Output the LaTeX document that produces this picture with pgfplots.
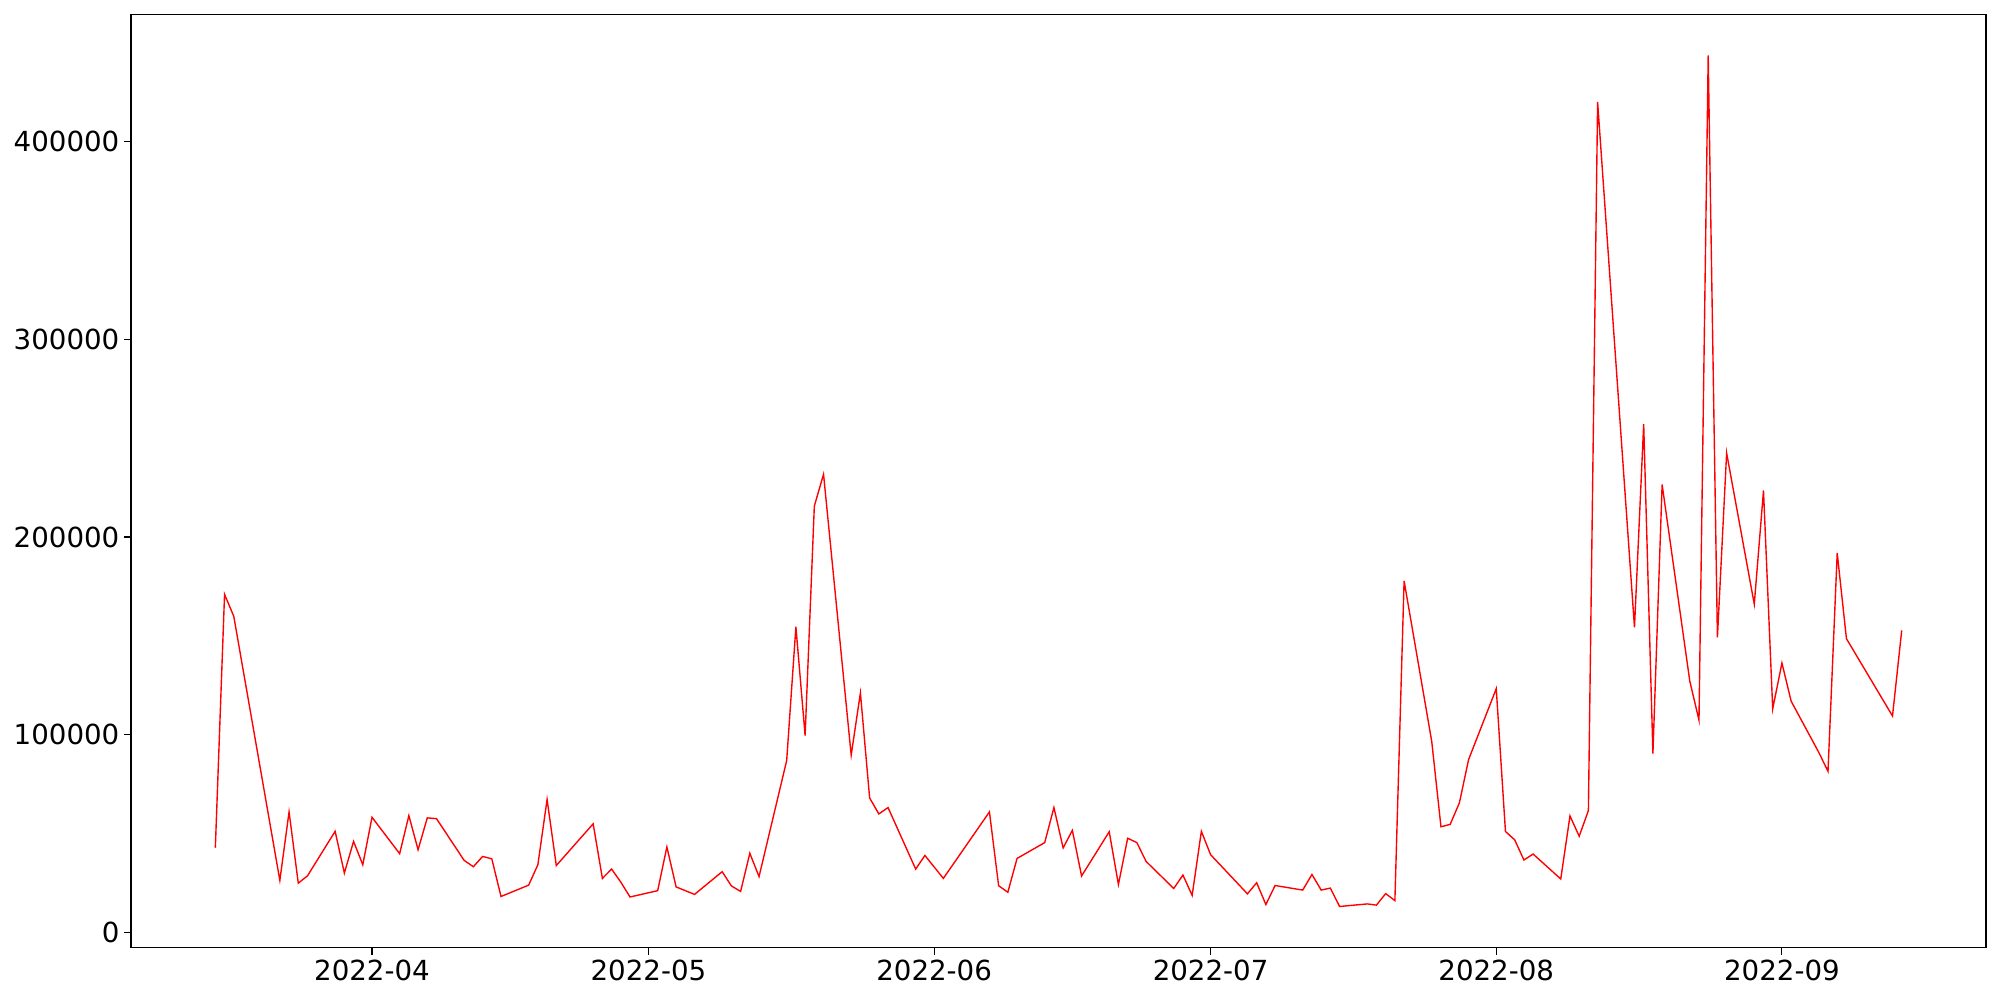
\documentclass[border=0pt]{standalone}
\usepackage{fontspec}
\setmainfont{DejaVu Sans}
\usepackage{pgfplots}
\pgfplotsset{compat=1.18}

% day numbers counted from 2022-03-01 (day 0)
\pgfplotstableread{
day value
14 42900
15 171000
16 159900
21 26400
22 61000
23 25000
24 28700
27 51200
28 30100
29 46100
30 34300
31 58300
34 39900
35 59150
36 41900
37 58000
38 57600
41 36500
42 33300
43 38500
44 37300
45 18250
48 24000
49 34300
50 67300
51 33900
55 55000
56 27400
57 32100
58 25500
59 18000
62 21200
63 43300
64 23100
66 19300
69 30800
70 23600
71 20800
72 40100
73 28300
76 87000
77 154600
78 99600
79 215600
80 231700
83 89700
84 121200
85 68100
86 60000
87 63200
90 32100
91 39000
93 27400
98 61000
99 23700
100 20400
101 37500
104 45500
105 63200
106 42800
107 51700
108 28600
111 51000
112 24300
113 47700
114 45500
115 36000
118 22300
119 29100
120 18800
121 51200
122 39400
126 19600
127 25200
128 14200
129 23800
132 21500
133 29400
134 21500
135 22500
136 13200
139 14500
140 13900
141 19700
142 16200
143 177800
146 96600
147 53500
148 54700
149 65600
150 87500
153 123300
154 51100
155 46900
156 36700
157 39700
160 27100
161 59000
162 48700
163 61700
164 419900
168 154300
169 257000
170 90500
171 226500
174 127200
175 107400
176 443400
177 149200
178 242400
181 166000
182 223500
183 113100
184 136300
185 117000
188 91100
189 81500
190 191900
191 148600
196 109500
197 152800
}\datatable

\begin{document}
\begin{tikzpicture}
\begin{axis}[
    scale only axis,
    width=1340.7pt,
    height=674.3pt,
    xmin=4.85, xmax=206.15,
    ymin=-7740, ymax=463900,
    xtick={31,61,92,122,153,184},
    xticklabels={2022-04,2022-05,2022-06,2022-07,2022-08,2022-09},
    ytick={0,100000,200000,300000,400000},
    scaled y ticks=false,
    yticklabel style={/pgf/number format/fixed, /pgf/number format/1000 sep={}},
    /pgf/number format/assume math mode=true,
    tick label style={font=\fontsize{20}{24}\selectfont},
    tick align=outside,
    xtick pos=left, ytick pos=left,
    major tick length=4.9pt,
    axis line style={line width=0.8pt},
    every tick/.style={black, line width=0.8pt},
]
\addplot[red, line width=1pt, mark=none] table[x=day, y=value] {\datatable};
\end{axis}
\path[use as bounding box] ([xshift=-94.7pt,yshift=-37.6pt]current axis.south west) rectangle ([xshift=10.1pt,yshift=10.8pt]current axis.north east);
\end{tikzpicture}
\end{document}
